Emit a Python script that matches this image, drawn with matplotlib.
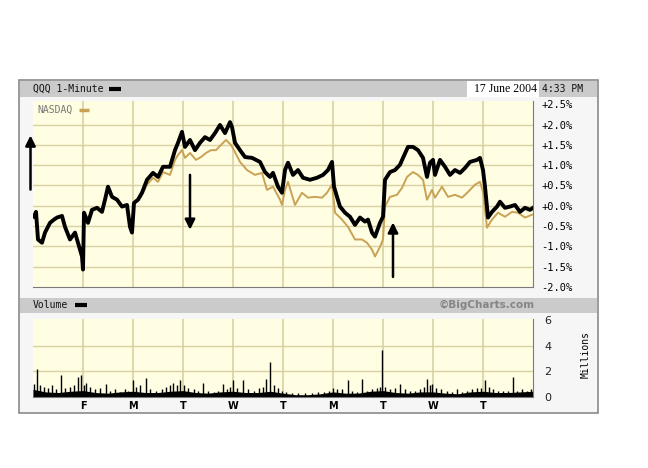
import matplotlib
matplotlib.use("Agg")
import matplotlib.pyplot as plt
from matplotlib.patches import Rectangle
from matplotlib.lines import Line2D

# QQQ 1-minute, % change (x = trading day index, 0..10)
qqq_day = [0.02, 0.06, 0.10, 0.18, 0.24, 0.34, 0.42, 0.48, 0.58, 0.64, 0.74, 0.84, 0.90, 0.98, 1.00,
           1.02, 1.10, 1.18, 1.28, 1.38, 1.44, 1.50, 1.58, 1.68, 1.78, 1.88, 1.94, 1.98,
           2.02, 2.10, 2.18, 2.28, 2.40, 2.50, 2.60, 2.74, 2.84, 2.90, 2.98,
           3.04, 3.14, 3.24, 3.34, 3.44, 3.54, 3.64, 3.74, 3.84, 3.94, 3.98,
           4.04, 4.14, 4.24, 4.38, 4.54, 4.64, 4.74, 4.80, 4.90, 4.98,
           5.04, 5.10, 5.20, 5.30, 5.40, 5.54, 5.68, 5.80, 5.90, 5.98,
           6.02, 6.08, 6.14, 6.24, 6.34, 6.44, 6.54, 6.64, 6.70, 6.78, 6.84, 6.94, 7.00,
           7.04, 7.14, 7.24, 7.34, 7.40, 7.50, 7.60, 7.70, 7.80, 7.88, 7.94, 8.00,
           8.04, 8.14, 8.24, 8.34, 8.44, 8.54, 8.64, 8.74, 8.88, 8.94, 9.00,
           9.04, 9.10, 9.18, 9.28, 9.34, 9.44, 9.54, 9.64, 9.74, 9.84, 9.94, 10.00]
qqq_pct = [-0.27, -0.15, -0.83, -0.91, -0.66, -0.42, -0.34, -0.29, -0.25, -0.52, -0.83, -0.66, -0.91, -1.25, -1.57,
           -0.17, -0.42, -0.10, -0.05, -0.15, 0.15, 0.47, 0.22, 0.15, -0.02, 0.02, -0.52, -0.66,
           0.07, 0.15, 0.32, 0.64, 0.81, 0.71, 0.96, 0.96, 1.37, 1.55, 1.82,
           1.45, 1.62, 1.37, 1.55, 1.69, 1.62, 1.79, 1.99, 1.79, 2.06, 1.94,
           1.55, 1.37, 1.20, 1.18, 1.08, 0.83, 0.71, 0.81, 0.47, 0.32,
           0.88, 1.06, 0.76, 0.88, 0.69, 0.64, 0.69, 0.76, 0.88, 1.08,
           0.47, 0.22, -0.02, -0.17, -0.27, -0.47, -0.29, -0.39, -0.34, -0.66, -0.76, -0.42, -0.27,
           0.64, 0.83, 0.88, 1.01, 1.18, 1.45, 1.45, 1.37, 1.18, 0.71, 1.06, 1.13,
           0.76, 1.13, 0.96, 0.76, 0.88, 0.81, 0.93, 1.08, 1.13, 1.18, 0.88,
           0.47, -0.29, -0.15, -0.02, 0.10, -0.05, -0.02, 0.02, -0.15, -0.05, -0.10, -0.05]

# NASDAQ composite, % change
ndx_day = [0.02, 0.06, 0.10, 0.18, 0.24, 0.34, 0.42, 0.48, 0.58, 0.64, 0.74, 0.84, 0.90, 0.98, 1.00,
           1.02, 1.10, 1.18, 1.28, 1.38, 1.44, 1.50, 1.58, 1.68, 1.78, 1.88, 1.94, 1.98,
           2.02, 2.10, 2.18, 2.28, 2.40, 2.50, 2.60, 2.74, 2.84, 2.90, 2.98,
           3.04, 3.14, 3.26, 3.36, 3.46, 3.56, 3.66, 3.76, 3.86, 3.96,
           4.02, 4.14, 4.28, 4.44, 4.58, 4.68, 4.80, 4.94, 4.98,
           5.04, 5.10, 5.24, 5.38, 5.50, 5.64, 5.78, 5.88, 5.98,
           6.04, 6.18, 6.30, 6.44, 6.58, 6.68, 6.78, 6.84, 6.94, 7.00,
           7.04, 7.14, 7.28, 7.38, 7.48, 7.60, 7.70, 7.80, 7.88, 7.98,
           8.04, 8.18, 8.30, 8.44, 8.58, 8.70, 8.84, 8.94, 9.00,
           9.08, 9.18, 9.30, 9.44, 9.58, 9.70, 9.84, 9.98]
ndx_pct = [-0.27, -0.15, -0.83, -0.91, -0.66, -0.42, -0.34, -0.29, -0.25, -0.52, -0.83, -0.66, -0.91, -1.25, -1.57,
           -0.17, -0.42, -0.10, -0.05, -0.15, 0.15, 0.47, 0.22, 0.15, -0.02, 0.02, -0.52, -0.66,
           0.07, 0.12, 0.27, 0.52, 0.69, 0.59, 0.83, 0.76, 1.13, 1.25, 1.37,
           1.18, 1.30, 1.13, 1.20, 1.30, 1.37, 1.37, 1.50, 1.62, 1.50,
           1.37, 1.08, 0.88, 0.76, 0.81, 0.39, 0.47, 0.15, 0.02,
           0.39, 0.59, 0.02, 0.32, 0.20, 0.22, 0.20, 0.32, 0.52,
           -0.17, -0.34, -0.52, -0.83, -0.83, -0.91, -1.08, -1.25, -1.01, -0.83,
           -0.02, 0.22, 0.27, 0.44, 0.71, 0.83, 0.76, 0.64, 0.15, 0.39,
           0.20, 0.47, 0.22, 0.27, 0.20, 0.34, 0.52, 0.59, 0.34,
           -0.54, -0.34, -0.17, -0.27, -0.15, -0.17, -0.29, -0.22]

# volume (millions): steady floor plus individual minute spikes
base_day = [0.0, 0.25, 0.5, 0.75, 1.0, 1.25, 1.5, 1.75, 2.0, 2.25, 2.5, 2.75, 3.0, 3.25, 3.5, 3.75,
            4.0, 4.25, 4.5, 4.75, 5.0, 5.25, 5.5, 5.75, 6.0, 6.25, 6.5, 6.75, 7.0, 7.25, 7.5, 7.75,
            8.0, 8.25, 8.5, 8.75, 9.0, 9.25, 9.5, 9.75, 10.0]
base_vol = [0.60, 0.40, 0.35, 0.45, 0.50, 0.35, 0.30, 0.40, 0.45, 0.35, 0.35, 0.45, 0.50, 0.35, 0.30, 0.40,
            0.45, 0.35, 0.35, 0.45, 0.30, 0.18, 0.18, 0.25, 0.40, 0.30, 0.30, 0.45, 0.50, 0.35, 0.30, 0.40,
            0.40, 0.30, 0.25, 0.40, 0.45, 0.35, 0.35, 0.40, 0.45]
spike_day = [0.02, 0.08, 0.14, 0.22, 0.30, 0.38, 0.46, 0.56, 0.64, 0.74, 0.82, 0.90, 0.96,
             1.02, 1.06, 1.14, 1.24, 1.34, 1.46, 1.54, 1.64, 1.74, 1.84, 1.90,
             2.00, 2.06, 2.14, 2.26, 2.34, 2.46, 2.58, 2.66, 2.74, 2.80, 2.88, 2.94,
             3.02, 3.10, 3.22, 3.30, 3.40, 3.50, 3.62, 3.70, 3.80, 3.88, 3.94,
             4.00, 4.08, 4.20, 4.30, 4.42, 4.52, 4.60, 4.66, 4.74, 4.82, 4.90, 4.98,
             5.06, 5.18, 5.30, 5.44, 5.58, 5.70, 5.82, 5.92,
             6.00, 6.08, 6.18, 6.30, 6.38, 6.48, 6.58, 6.68, 6.78, 6.88, 6.94, 6.98,
             7.04, 7.14, 7.24, 7.34, 7.44, 7.54, 7.64, 7.74, 7.82, 7.88, 7.94, 7.98,
             8.06, 8.16, 8.28, 8.38, 8.48, 8.58, 8.68, 8.78, 8.88, 8.96,
             9.04, 9.12, 9.20, 9.30, 9.40, 9.50, 9.60, 9.68, 9.78, 9.88, 9.96]
spike_vol = [1.0, 2.2, 0.9, 0.8, 0.7, 0.9, 0.6, 1.7, 0.7, 0.8, 0.9, 1.6, 1.7,
             0.9, 1.1, 0.8, 0.6, 0.7, 1.0, 0.5, 0.6, 0.4, 0.6, 0.5,
             1.3, 0.8, 0.9, 1.5, 0.6, 0.5, 0.6, 0.8, 0.9, 1.1, 0.9, 1.3,
             0.9, 0.7, 0.6, 0.5, 1.1, 0.5, 0.4, 0.5, 1.0, 0.6, 0.8,
             1.3, 0.7, 1.3, 0.6, 0.5, 0.7, 0.8, 1.4, 2.7, 0.9, 0.7, 0.5,
             0.4, 0.3, 0.3, 0.3, 0.3, 0.4, 0.4, 0.5,
             0.7, 0.6, 0.6, 1.3, 0.5, 0.4, 1.4, 0.5, 0.6, 0.7, 0.8, 3.7,
             0.8, 0.6, 0.7, 1.0, 0.6, 0.5, 0.5, 0.6, 0.8, 1.4, 0.9, 1.0,
             0.7, 0.6, 0.5, 0.4, 0.6, 0.4, 0.5, 0.6, 0.7, 0.7,
             1.3, 0.8, 0.6, 0.5, 0.5, 0.5, 1.6, 0.5, 0.6, 0.5, 0.6]

day_labels = ["F", "M", "T", "W", "T", "M", "T", "W", "T"]
pct_ticks = [-2.0, -1.5, -1.0, -0.5, 0.0, 0.5, 1.0, 1.5, 2.0, 2.5]
vol_ticks = [0, 2, 4, 6]

W, H = 648, 468
MONO = "DejaVu Sans Mono"
PLOT_BG = "#fffde2"
GRID = "#d8d1a3"
GOLD = "#c9a255"
BAR = "#cbcbcb"

fig = plt.figure(figsize=(6.48, 4.68), dpi=100)
fig.patch.set_facecolor("white")


def box(x0, y0, x1, y1, **kw):
    fig.add_artist(Rectangle((x0 / W, 1 - y1 / H), (x1 - x0) / W, (y1 - y0) / H,
                             transform=fig.transFigure, **kw))


def ftext(x, y, s, **kw):
    fig.text(x / W, 1 - y / H, s, va="center", **kw)


def dash(x0, x1, y, color, lw=3):
    fig.add_artist(Line2D([x0 / W, x1 / W], [1 - y / H, 1 - y / H], color=color, lw=lw,
                          transform=fig.transFigure, solid_capstyle="butt"))


# frame and header bars
box(19, 80, 598, 413, facecolor="#f6f6f6", edgecolor="#8a8a8a", lw=1.2, zorder=0)
box(20, 81, 597, 97, facecolor=BAR, edgecolor="none", zorder=0)
box(467, 81, 539, 97, facecolor="white", edgecolor="none", zorder=0)
box(20, 298, 597, 313, facecolor=BAR, edgecolor="none", zorder=0)

ftext(33, 89, "QQQ 1-Minute", family=MONO, fontsize=7, color="#111111")
dash(109, 121, 89, "black")
ftext(537, 89, "17 June 2004", family="Liberation Serif", fontsize=8.5, ha="right")
ftext(542, 89, "4:33 PM", family=MONO, fontsize=7, color="#111111")
ftext(33, 305, "Volume", family=MONO, fontsize=7, color="#111111")
dash(75, 87, 305, "black")
ftext(535, 305, "\u00a9BigCharts.com", family="DejaVu Sans", fontsize=7.5,
      fontweight="bold", color="#858585", ha="right")
ftext(586, 355, "Millions", family=MONO, fontsize=7, rotation=90, ha="center")

# price panel
ax = fig.add_axes([33 / W, 1 - 287 / H, 500 / W, 186 / H])
ax.set_facecolor(PLOT_BG)
ax.set_xlim(0, 10)
ax.set_ylim(-2.0, 2.58)
for d in range(1, 10):
    ax.axvline(d, color=GRID, lw=1.2, zorder=1)
for p in pct_ticks[1:-1]:
    ax.axhline(p, color=GRID, lw=1, zorder=1)
ax.plot(ndx_day, ndx_pct, color=GOLD, lw=1.4, zorder=2)
ax.plot(qqq_day, qqq_pct, color="black", lw=2.8, zorder=3)
ax.yaxis.tick_right()
ax.set_yticks(pct_ticks)
ax.set_yticklabels(["%+.1f%%" % t if t != 0 else "+0.0%" for t in pct_ticks],
                   family=MONO, fontsize=7.5)
ax.tick_params(axis="y", length=0, pad=6)
ax.set_xticks([])
for s in ["left", "top"]:
    ax.spines[s].set_visible(False)
for s in ["right", "bottom"]:
    ax.spines[s].set_color("#7a7a7a")
ax.text(0.08, 2.37, "NASDAQ", family=MONO, fontsize=7, color="#777777", va="center")
ax.plot([0.92, 1.12], [2.37, 2.37], color=GOLD, lw=2.5, solid_capstyle="butt")

# annotation arrows
arrow = dict(arrowstyle="-|>,head_length=0.6,head_width=0.3", color="black", lw=1.8)
ax.annotate("", xy=(-0.05, 1.80), xytext=(-0.05, 0.33), arrowprops=arrow, annotation_clip=False)
ax.annotate("", xy=(3.14, -0.66), xytext=(3.14, 0.83), arrowprops=arrow)
ax.annotate("", xy=(7.2, -0.34), xytext=(7.2, -1.82), arrowprops=arrow)

# volume panel
vx = fig.add_axes([33 / W, 1 - 397 / H, 500 / W, 78 / H])
vx.set_facecolor(PLOT_BG)
vx.set_xlim(0, 10)
vx.set_ylim(0, 6.1)
for d in range(1, 10):
    vx.axvline(d, color=GRID, lw=1.2, zorder=1)
for v in vol_ticks[1:-1]:
    vx.axhline(v, color=GRID, lw=1, zorder=1)
vx.fill_between(base_day, base_vol, color="black", lw=0, zorder=2)
vx.vlines(spike_day, 0, spike_vol, color="black", lw=1.0, zorder=3)
vx.yaxis.tick_right()
vx.set_yticks(vol_ticks)
vx.set_yticklabels([str(v) for v in vol_ticks], fontsize=8, color="#222222")
vx.tick_params(axis="y", length=0, pad=8)
vx.set_xticks(range(1, 10))
vx.set_xticklabels(day_labels, fontsize=7, fontweight="bold")
vx.tick_params(axis="x", length=0, pad=3)
for s in ["left", "top"]:
    vx.spines[s].set_visible(False)
for s in ["right", "bottom"]:
    vx.spines[s].set_color("#7a7a7a")

fig.savefig("out.png", dpi=100)
